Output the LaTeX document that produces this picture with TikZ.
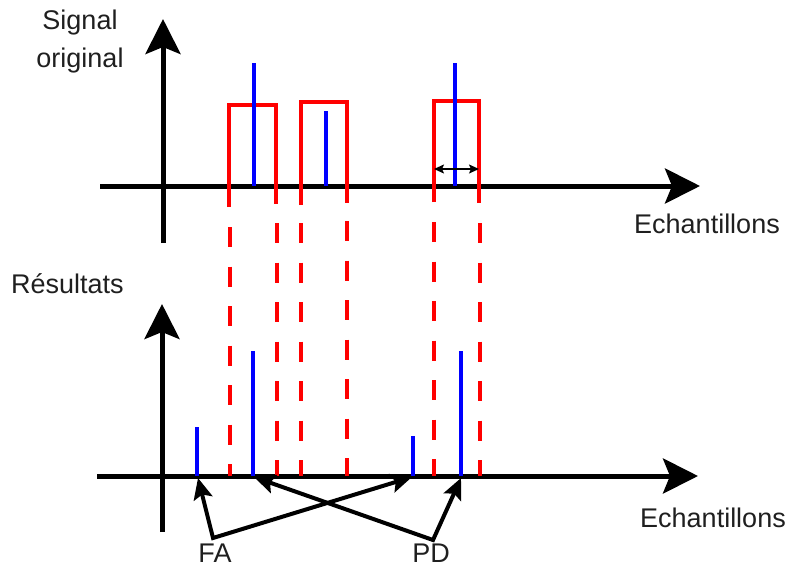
\documentclass[tikz,border=0pt]{standalone}
\usepackage{fontspec}
\setmainfont{Liberation Sans}
\usetikzlibrary{arrows.meta}
\begin{document}
\begin{tikzpicture}[x=1pt,y=-1pt,
  axis/.style={line width=5pt,-{Stealth[length=35pt,width=35pt,inset=7pt]}},
  win/.style={red,line width=4pt},
  winext/.style={red,line width=4pt,dash pattern=on 20pt off 19.5pt},
  spike/.style={blue,line width=4pt},
  lab/.style={font=\fontsize{27}{38}\selectfont,inner sep=0pt,text=black!88},
  pointers/.style={line width=4pt,{Stealth[length=21pt,width=19pt,inset=4pt]}-{Stealth[length=21pt,width=19pt,inset=4pt]}},
  span/.style={line width=1.5pt,{Stealth[length=10pt,width=9pt,inset=2pt]}-{Stealth[length=10pt,width=9pt,inset=2pt]}}
]
\useasboundingbox (0,0) rectangle (789,565);

% ---------- top axes ----------
\coordinate (tx0) at (100,186);
\coordinate (tx1) at (700,186);
\coordinate (ty0) at (163,243);
\coordinate (ty1) at (163,19);
\draw[axis] (tx0) -- (tx1);
\draw[axis] (ty0) -- (ty1);

% ---------- bottom axes ----------
\coordinate (bx0) at (97,476);
\coordinate (bx1) at (698,476);
\coordinate (by0) at (162,532);
\coordinate (by1) at (162,304);
\draw[axis] (bx0) -- (bx1);
\draw[axis] (by0) -- (by1);

% ---------- windows (top) ----------
\draw[win] (229,207) -- (229,105) -- (276,105) -- (276,204);
\draw[win] (301,205) -- (301,102) -- (347,102) -- (347,203);
\draw[win] (434,202) -- (434,101) -- (479,101) -- (479,203);

% ---------- dashed extensions ----------
\draw[winext] (229.5,227) -- (229.5,476);
\draw[winext] (276.5,223) -- (276.5,476);
\draw[winext] (301,223) -- (301,476);
\draw[winext] (347,221) -- (347,476);
\draw[winext] (433.5,222) -- (433.5,476);
\draw[winext] (479.5,223) -- (479.5,476);

% ---------- spikes (top) ----------
\draw[spike] (254,186) -- (254,63);
\draw[spike] (326,186) -- (326,111);
\draw[spike] (455,186) -- (455,63);

% ---------- width arrow ----------
\coordinate (wl) at (434,169);
\coordinate (wr) at (479,169);
\draw[span] (wl) -- (wr);

% ---------- spikes (bottom) ----------
\coordinate (s1) at (197,476);
\coordinate (s2) at (253,476);
\coordinate (s3) at (413,476);
\coordinate (s4) at (461,476);
\draw[spike] (s1) -- (197,427);
\draw[spike] (s2) -- (253,351);
\draw[spike] (s3) -- (413,436);
\draw[spike] (s4) -- (461,351);

% ---------- labels ----------
\node[lab,anchor=base,align=center] (sig) at (80,67) {Signal\\original};
\node[lab,anchor=base west] (ech1) at (634,233) {Echantillons};
\node[lab,anchor=base west] (res) at (11,293) {Résultats};
\node[lab,anchor=base west] (ech2) at (640,527) {Echantillons};
\node[lab,anchor=base] (fa) at (215,562) {FA};
\node[lab,anchor=base] (pd) at (431,562) {PD};

% ---------- FA / PD pointers ----------
\coordinate (fav) at (213,538);
\coordinate (pdv) at (433,540);
\coordinate (t1) at (198,478);
\coordinate (t3) at (412,477);
\coordinate (t2) at (254,477);
\coordinate (t4) at (461,478);
\draw[pointers] (t1) -- (fav) -- (t3);
\draw[pointers] (t2) -- (pdv) -- (t4);
\end{tikzpicture}
\end{document}
